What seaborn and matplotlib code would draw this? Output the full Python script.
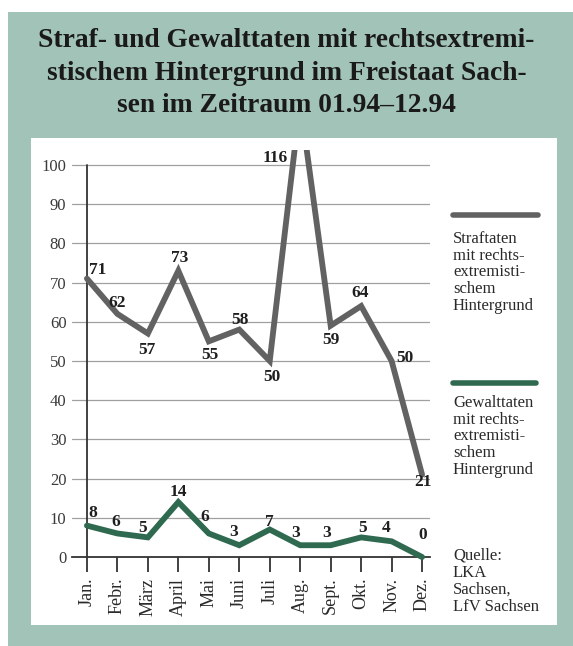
import matplotlib
matplotlib.use("Agg")
import matplotlib.pyplot as plt
import seaborn as sns
import pandas as pd
from matplotlib.patches import Rectangle

sns.set_theme(style="white")
plt.rcParams["font.family"] = ["Liberation Serif", "DejaVu Serif"]

# --- data -----------------------------------------------------------------
months = ["Jan.", "Febr.", "März", "April", "Mai", "Juni",
          "Juli", "Aug.", "Sept.", "Okt.", "Nov.", "Dez."]
straftaten = [71, 62, 57, 73, 55, 58, 50, 116, 59, 64, 50, 21]
gewalttaten = [8, 6, 5, 14, 6, 3, 7, 3, 3, 5, 4, 0]
y_ticks = [0, 10, 20, 30, 40, 50, 60, 70, 80, 90, 100]

title = ("Straf- und Gewalttaten mit rechtsextremi-\n"
         "stischem Hintergrund im Freistaat Sach-\n"
         "sen im Zeitraum 01.94–12.94")
legend_straf = "Straftaten\nmit rechts-\nextremisti-\nschem\nHintergrund"
legend_gewalt = "Gewalttaten\nmit rechts-\nextremisti-\nschem\nHintergrund"
source = "Quelle:\nLKA\nSachsen,\nLfV Sachsen"

# label offsets in pixels (dx, dy) for each value label
straf_offsets = [(11, 9), (0, 11), (-1, -16), (1, 13), (1, -14), (1, 10),
                 (2, -16), (-25, -56), (0, -14), (-1, 13), (13, 3), (1, -7)]
gewalt_offsets = [(6, 13), (-2, 11), (-5, 9), (0, 10), (-4, 16), (-6, 13),
                  (0, 8), (-5, 12), (-4, 12), (1, 9), (-5, 13), (1, 22)]

GREY = "#626262"
GREEN = "#2f6a50"
TEAL = "#a2c3b7"

df = pd.DataFrame({"x": range(len(months)), "straf": straftaten,
                   "gewalt": gewalttaten})

W, H = 573, 646
fig = plt.figure(figsize=(W / 100, H / 100), dpi=100, facecolor="white")

# framed background
fig.patches.append(Rectangle((8 / W, 0), 1 - 8 / W, 1 - 12 / H,
                             transform=fig.transFigure, facecolor=TEAL,
                             edgecolor="none", zorder=-3))
fig.patches.append(Rectangle((31 / W, (H - 625) / H), (557 - 31) / W,
                             (625 - 138) / H, transform=fig.transFigure,
                             facecolor="white", edgecolor="none", zorder=-2))

fig.text(0.5, 1 - 73 / H, title, ha="center", va="center", fontsize=19.8,
         fontweight="bold", color="#1a1a1a", linespacing=1.42)

ax = fig.add_axes([72 / W, (H - 557) / H, 358 / W, 407 / H])
ax.set_facecolor("none")

# grid lines (also act as y ticks)
for v in y_ticks[1:]:
    ax.axhline(v, color="#a0a0a0", lw=0.9, zorder=0)

sns.lineplot(data=df, x="x", y="straf", ax=ax, color=GREY, lw=4.2,
             zorder=3, legend=False)
sns.lineplot(data=df, x="x", y="gewalt", ax=ax, color=GREEN,
             lw=4.2, zorder=3, legend=False)
ax.lines[-1].set_clip_on(False)
ax.lines[-1].set_solid_joinstyle("miter")
ax.lines[-2].set_solid_joinstyle("miter")

ax.set_xlim(-0.49, 11.26)
ax.set_ylim(0, 103.8)

# y axis line
ax.plot([0, 0], [0, 100], color="#333333", lw=1.3, zorder=2)

for s in ["top", "right", "left"]:
    ax.spines[s].set_visible(False)
ax.spines["bottom"].set_color("#333333")
ax.spines["bottom"].set_linewidth(1.3)

ax.set_yticks(y_ticks)
ax.set_yticklabels([str(v) for v in y_ticks], fontsize=12, color="#3a3a3a")
ax.tick_params(axis="y", length=0, pad=4)
ax.set_xticks(df["x"])
ax.set_xticklabels(months, rotation=90, fontsize=13, color="#2a2a2a")
ax.tick_params(axis="x", direction="out", length=11, width=1.3,
               color="#333333", bottom=True, pad=4)
ax.set_xlabel("")
ax.set_ylabel("")

for i, (v, off) in enumerate(zip(straftaten, straf_offsets)):
    ax.annotate(str(v), (i, v), xytext=off, textcoords="offset pixels",
                ha="center", va="center", fontsize=12.5, fontweight="bold",
                color="#1f1f1f", zorder=4, annotation_clip=False)
for i, (v, off) in enumerate(zip(gewalttaten, gewalt_offsets)):
    ax.annotate(str(v), (i, v), xytext=off, textcoords="offset pixels",
                ha="center", va="center", fontsize=12.5, fontweight="bold",
                color="#1f1f1f", zorder=4, annotation_clip=False)

# legend entries on the right
fig.add_artist(plt.Line2D([453 / W, 538 / W], [1 - 215 / H, 1 - 215 / H],
                          color=GREY, lw=4, transform=fig.transFigure))
fig.text(453 / W, 1 - 231 / H, legend_straf, ha="left", va="top",
         fontsize=12, color="#2a2a2a", linespacing=1.06)
fig.add_artist(plt.Line2D([453 / W, 536 / W], [1 - 383 / H, 1 - 383 / H],
                          color=GREEN, lw=4, transform=fig.transFigure))
fig.text(453 / W, 1 - 395 / H, legend_gewalt, ha="left", va="top",
         fontsize=12, color="#2a2a2a", linespacing=1.06)
fig.text(453 / W, 1 - 548 / H, source, ha="left", va="top",
         fontsize=12, color="#2a2a2a", linespacing=1.08)

fig.savefig("out.png", dpi=100, facecolor="white")
